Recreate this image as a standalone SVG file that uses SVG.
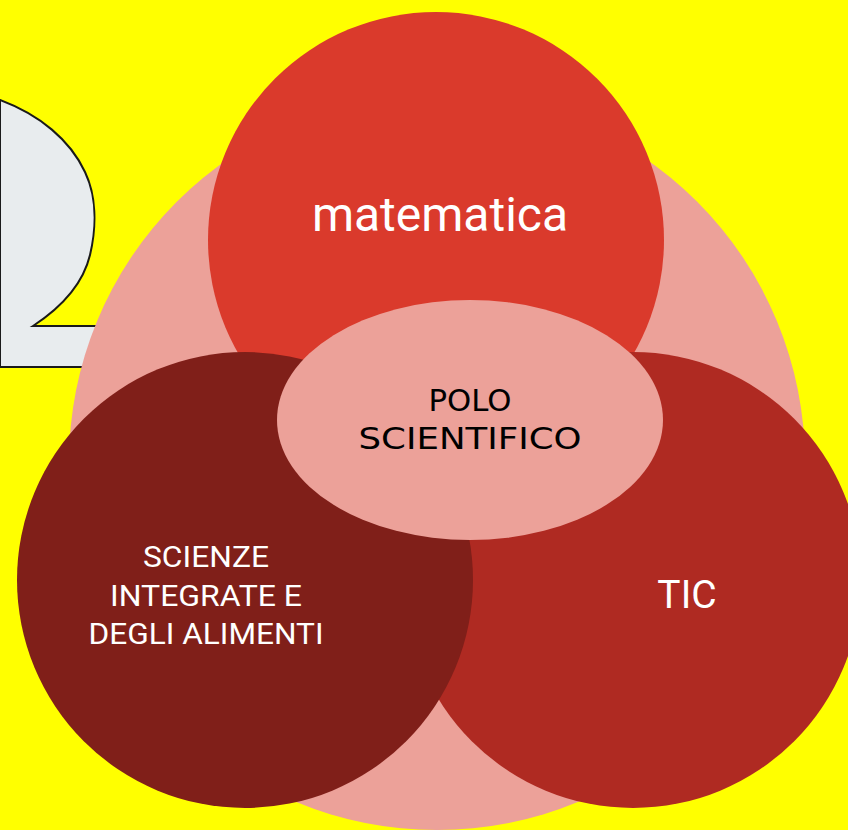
<svg xmlns="http://www.w3.org/2000/svg" width="848" height="830" viewBox="0 0 848 830">
<style>
.lbl{font-family:Roboto,"Liberation Sans",sans-serif;fill:#ffffff;text-anchor:middle}
.polo{font-family:"DejaVu Sans",sans-serif;fill:#000000;text-anchor:middle}
</style>
<rect width="848" height="830" fill="#ffff00"/>
<g id="numero-2">
<path d="M0,100 C40,115 70,140 85,172 C96,195 97,225 90,255 C84,280 65,305 33,326 L96,326 L96,367 L0,367 Z" fill="#e8ecee" stroke="#1a1a1a" stroke-width="2"/>
</g>
<g id="sfondo">
<circle cx="437" cy="462" r="368" fill="#eca199"/>
</g>
<g id="matematica">
<circle cx="436" cy="240" r="228" fill="#da3a2c"/>
<text class="lbl" x="440" y="231" font-size="48">matematica</text>
</g>
<g id="tic">
<circle cx="633" cy="580" r="228" fill="#af2a22"/>
<text class="lbl" x="687" y="608" font-size="39">TIC</text>
</g>
<g id="scienze">
<circle cx="245" cy="580" r="228" fill="#801f19"/>
<text class="lbl" x="206" y="567" font-size="30" textLength="126" lengthAdjust="spacingAndGlyphs">SCIENZE</text>
<text class="lbl" x="206" y="606" font-size="30" textLength="192" lengthAdjust="spacingAndGlyphs">INTEGRATE E</text>
<text class="lbl" x="206" y="644" font-size="30" textLength="235" lengthAdjust="spacingAndGlyphs">DEGLI ALIMENTI</text>
</g>
<g id="polo">
<ellipse cx="470" cy="420" rx="193" ry="120" fill="#eca199"/>
<text class="polo" x="470" y="411" font-size="30" textLength="83" lengthAdjust="spacingAndGlyphs">POLO</text>
<text class="polo" x="470" y="449" font-size="30" textLength="223" lengthAdjust="spacingAndGlyphs">SCIENTIFICO</text>
</g>
<g id="connectors"/>
</svg>
